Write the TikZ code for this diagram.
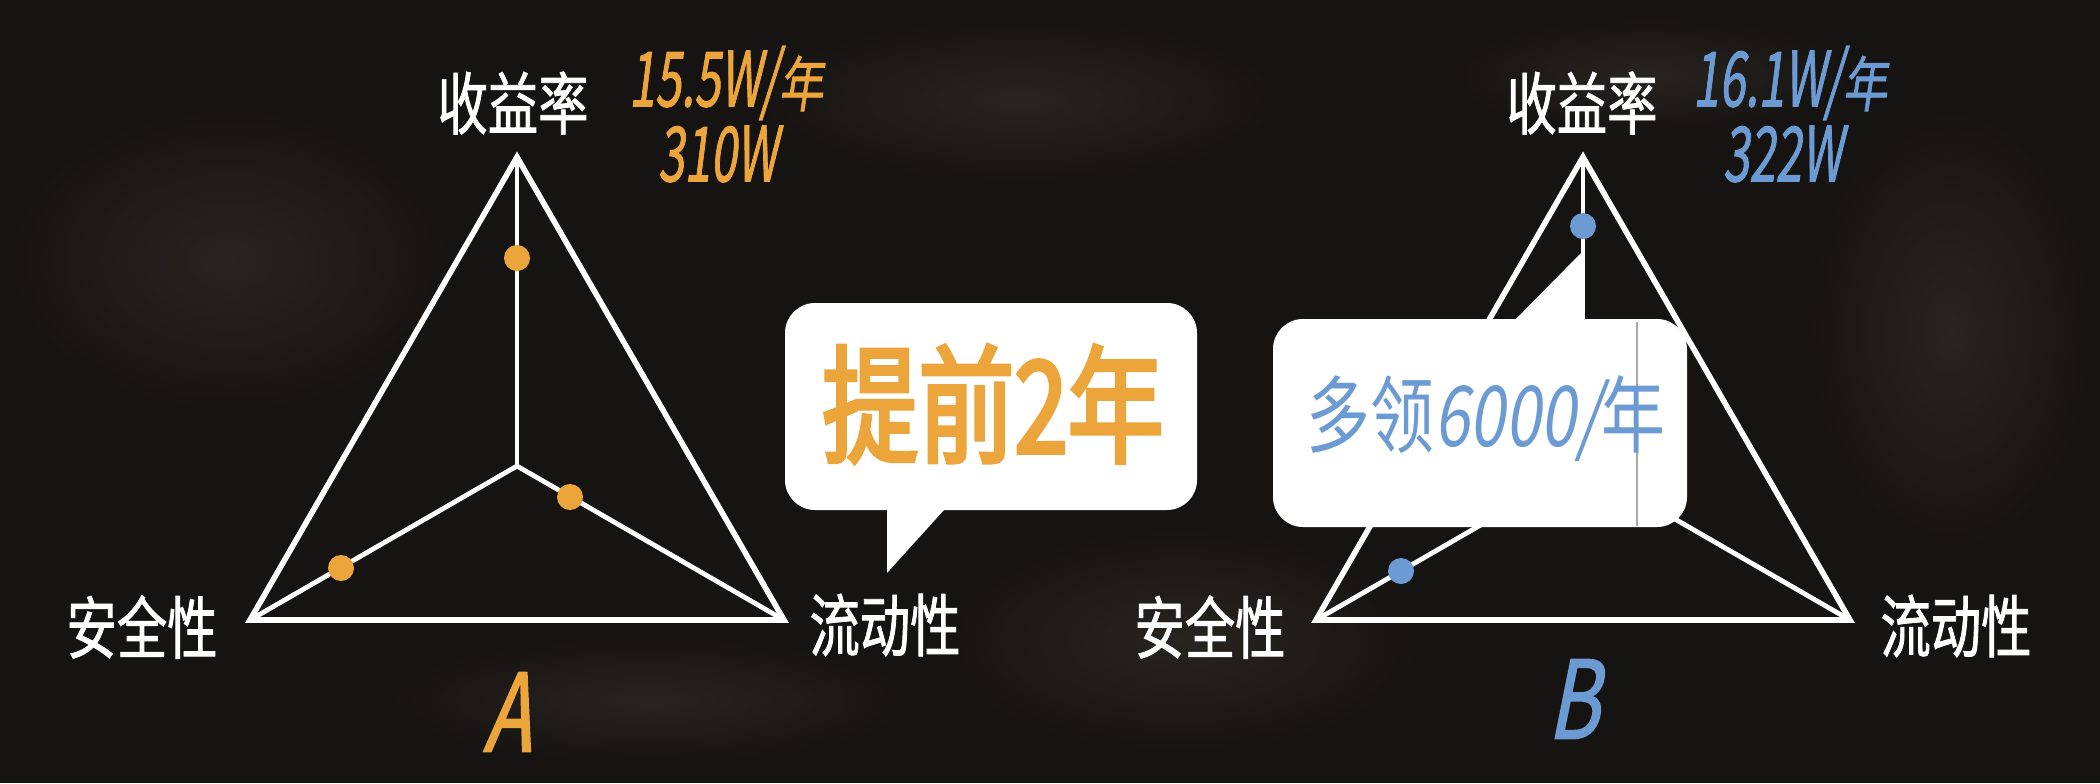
\documentclass[tikz,border=0pt]{standalone}
\usepackage{fontspec}
\usepackage{graphicx}
\newfontfamily\labfont{Noto Sans CJK SC}[FakeStretch=0.74,FakeBold=1.2]
\newfontfamily\numfont{Noto Sans CJK SC}[FakeSlant=0.2,FakeBold=1.5]
\newfontfamily\yearfont{Noto Sans CJK SC}[FakeSlant=0.2,FakeBold=1.2]
\newfontfamily\namefont{Noto Sans CJK SC}[FakeStretch=0.72,FakeSlant=0.2,FakeBold=1.5]
\newfontfamily\bubfont{Noto Sans CJK SC}[FakeStretch=0.75,FakeBold=3]
\newfontfamily\bubfontb{Noto Sans CJK SC}[FakeStretch=0.76]
\newfontfamily\bubslant{Noto Sans CJK SC}[FakeStretch=0.76,FakeSlant=0.15]
\newcommand\valtext[1]{\scalebox{0.62}[1]{\numfont\fontsize{38}{38}\selectfont #1}}
\newcommand\yeartext{\scalebox{0.74}[1]{\yearfont\fontsize{30}{30}\selectfont 年}}
\definecolor{orangeA}{RGB}{235,165,58}
\definecolor{blueB}{RGB}{108,155,212}
\definecolor{bgc}{RGB}{22,20,18}
\definecolor{bgl}{RGB}{40,36,32}
\tikzset{
  tri/.style={white, line width=2.8pt, line join=miter},
  spoke/.style={white, line width=2.4pt},
  dotA/.style={circle, fill=orangeA, inner sep=0pt, minimum size=13pt},
  dotB/.style={circle, fill=blueB, inner sep=0pt, minimum size=13pt},
  wlab/.style={text=white, inner sep=0pt, font=\labfont\fontsize{34}{34}\selectfont},
  vlab/.style={inner sep=0pt},
  namelab/.style={inner sep=0pt, font=\namefont\fontsize{54}{54}\selectfont},
  bubble/.style={fill=white, rounded corners=15pt},
  tail/.style={fill=white},
  patch/.style={inner color=bgl, outer color=bgc},
}
\begin{document}
\begin{tikzpicture}[x=0.5pt,y=-0.5pt]
\fill[bgc] (0,0) rectangle (2100,783);
\useasboundingbox (0,0) rectangle (2100,783);
% subtle paper texture
\shade[patch] (230,260) ellipse (220 and 150);
\shade[patch] (1020,100) ellipse (260 and 80);
\shade[patch] (1180,640) ellipse (240 and 110);
\shade[patch] (1950,330) ellipse (140 and 220);
\shade[patch] (650,700) ellipse (260 and 60);
\shade[patch] (1650,75) ellipse (200 and 55);

% ---------- Triangle A ----------
\coordinate (aT) at (517,157);
\coordinate (aBL) at (250,620);
\coordinate (aBR) at (784,620);
\coordinate (aC) at (517,466);
\draw[spoke] (aC) -- (aT);
\draw[spoke] (aC) -- (aBL);
\draw[spoke] (aC) -- (aBR);
\draw[tri] (aT) -- (aBL) -- (aBR) -- cycle;
\node[dotA] (a1) at (517,258) {};
\node[dotA] (a2) at (570,497) {};
\node[dotA] (a3) at (341,568) {};

\node[wlab] (aR) at (513,103) {收益率};
\node[wlab] (aS) at (142,627) {安全性};
\node[wlab] (aL) at (885,625) {流动性};
\node[vlab, text=orangeA] (aV1) at (726,83) {\valtext{15.5W/}\yeartext};
\node[vlab, text=orangeA] (aV2) at (718,154) {\valtext{310W}};
\node[namelab, text=orangeA] (aN) at (507,712) {A};

% ---------- Bubble 1 ----------
\fill[bubble] (785,303) rectangle (1197,510);
\fill[tail] (887,500) -- (887,573) -- (953,500) -- cycle;
\node[inner sep=0pt, text=orangeA, font=\bubfont\fontsize{64}{64}\selectfont] (t1) at (993,404) {提前2年};

% ---------- Triangle B ----------
\coordinate (bT) at (1583,157);
\coordinate (bBL) at (1316,620);
\coordinate (bBR) at (1850,620);
\coordinate (bC) at (1583,466);
\draw[spoke] (bC) -- (bT);
\draw[spoke] (bC) -- (bBL);
\draw[spoke] (bC) -- (bBR);
\draw[tri] (bT) -- (bBL) -- (bBR) -- cycle;
\node[dotB] (b1) at (1583,226) {};
\node[dotB] (b3) at (1401,571) {};

\node[wlab] (bR) at (1582,103) {收益率};
\node[wlab] (bS) at (1210,627) {安全性};
\node[wlab] (bL) at (1956,626) {流动性};
\node[vlab, text=blueB] (bV1) at (1790,83) {\valtext{16.1W/}\yeartext};
\node[vlab, text=blueB] (bV2) at (1783,154) {\valtext{322W}};
\node[namelab, text=blueB] (bN) at (1573,699) {B};

% ---------- Bubble 2 ----------
\fill[bubble] (1273,319) rectangle (1687,527);
\fill[tail] (1506,329) -- (1582,252) -- (1582,329) -- cycle;
\draw[black!35, line width=0.6pt] (1637,322) -- (1637,526);
\node[inner sep=0pt, text=blueB, font=\bubfontb\fontsize{42}{42}\selectfont] (t2) at (1486,419) {多领{\bubslant 6000/}年};
\end{tikzpicture}
\end{document}
